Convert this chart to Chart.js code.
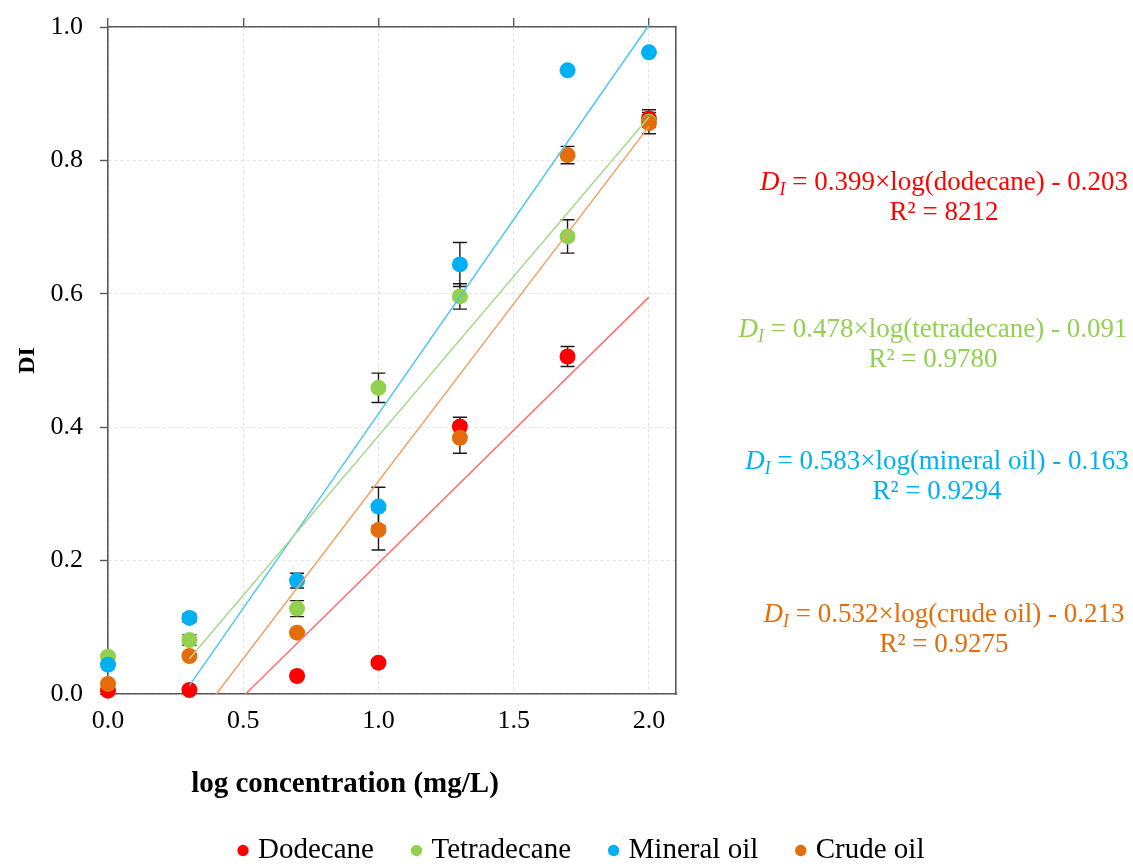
<!DOCTYPE html>
<html>
<head>
<meta charset="utf-8">
<script src="https://cdn.jsdelivr.net/npm/chart.js@4.4.1/dist/chart.umd.min.js"></script>
<style>
  html, body { margin: 0; padding: 0; background: #ffffff; }
  canvas { display: block; }
</style>
</head>
<body>
<canvas id="chart" width="1133" height="866"></canvas>
<script>
// log10 of the tested concentrations (1, 2, 5, 10, 20, 50, 100 mg/L)
const logConc = [0, 0.301, 0.699, 1, 1.301, 1.699, 2];

// Dispersion index per hydrocarbon
const dodecane    = [0.005, 0.006, 0.027, 0.047, 0.401, 0.506, 0.863];
const tetradecane = [0.056, 0.081, 0.128, 0.459, 0.596, 0.686, 0.858];
const mineralOil  = [0.044, 0.114, 0.170, 0.281, 0.644, 0.935, 0.962];
const crudeOil    = [0.015, 0.057, 0.092, 0.246, 0.384, 0.808, 0.856];

// Standard deviations (null = no bar)
const dodecaneErr    = [null, null, null, null, 0.014, 0.015, 0.013];
const tetradecaneErr = [null, 0.008, 0.012, 0.022, 0.019, 0.025, null];
const mineralOilErr  = [null, 0.006, 0.011, 0.029, 0.033, null, null];
const crudeOilErr    = [null, null, null, 0.030, 0.023, 0.013, 0.016];

const seriesNames = ['Dodecane', 'Tetradecane', 'Mineral oil', 'Crude oil'];
const fitNames    = ['dodecane', 'tetradecane', 'mineral oil', 'crude oil'];

// Linear fits: DI = slope × log(c) + intercept
const slopes     = [0.399, 0.478, 0.583, 0.532];
const intercepts = [-0.203, -0.091, -0.163, -0.213];
const rSquared   = ['8212', '0.9780', '0.9294', '0.9275'];

const xTicks = [0, 0.5, 1.0, 1.5, 2.0];
const yTicks = [0, 0.2, 0.4, 0.6, 0.8, 1.0];

const xTitle = 'log concentration (mg/L)';
const yTitle = 'DI';

const pointColors = ['#ff0000', '#92d050', '#00b0f0', '#e46c0a'];
const lineColors  = ['#ff6f6f', '#a9d98c', '#4fc6f3', '#f2a064'];
const textColors  = ['#ff0000', '#92d050', '#00b0f0', '#e46c0a'];

const seriesValues = [dodecane, tetradecane, mineralOil, crudeOil];
const seriesErrors = [dodecaneErr, tetradecaneErr, mineralOilErr, crudeOilErr];

const FONT = "'Liberation Serif', 'Times New Roman', serif";
const AXIS = '#595959';

// Fit lines run from the second concentration (or the zero crossing) to the last one
function fitSegment(i) {
  const xStart = Math.max(logConc[1], -intercepts[i] / slopes[i]);
  const xEnd = logConc[logConc.length - 1];
  return [xStart, xEnd].map(x => ({ x: x, y: slopes[i] * x + intercepts[i] }));
}

const pointSets = seriesValues.map((vals, i) => ({
  label: seriesNames[i],
  data: vals.map((v, j) => ({ x: logConc[j], y: v })),
  showLine: false,
  pointRadius: 8,
  pointHoverRadius: 8,
  pointBorderWidth: 0,
  backgroundColor: pointColors[i],
  borderColor: pointColors[i],
  clip: false,
  order: 4 - i
}));

const fitSets = seriesValues.map((vals, i) => ({
  label: seriesNames[i] + ' fit',
  data: fitSegment(i),
  showLine: true,
  pointRadius: 0,
  borderWidth: 1.5,
  borderColor: lineColors[i],
  backgroundColor: lineColors[i],
  fill: false,
  clip: 4,
  order: 0
}));

const errorBarPlugin = {
  id: 'errorBars',
  beforeDatasetsDraw(chart) {
    const { ctx, scales } = chart;
    ctx.save();
    ctx.strokeStyle = '#1a1a1a';
    ctx.lineWidth = 1.4;
    seriesErrors.forEach((errs, i) => {
      errs.forEach((e, j) => {
        if (e == null) return;
        const v = seriesValues[i][j];
        const px = scales.x.getPixelForValue(logConc[j]);
        const top = scales.y.getPixelForValue(v + e);
        const bot = scales.y.getPixelForValue(v - e);
        ctx.beginPath();
        ctx.moveTo(px, top); ctx.lineTo(px, bot);
        ctx.moveTo(px - 7, top); ctx.lineTo(px + 7, top);
        ctx.moveTo(px - 7, bot); ctx.lineTo(px + 7, bot);
        ctx.stroke();
      });
    });
    ctx.restore();
  }
};

// Fit equations beside the plot
const eqPlacement = [
  { cx: 944, y1: 183, y2: 213 },
  { cx: 933, y1: 330, y2: 360 },
  { cx: 937, y1: 462, y2: 492 },
  { cx: 944, y1: 615, y2: 645 }
];

const equationPlugin = {
  id: 'equations',
  afterDraw(chart) {
    const ctx = chart.ctx;
    ctx.save();
    ctx.textBaseline = 'middle';
    ctx.textAlign = 'left';
    seriesNames.forEach((name, i) => {
      const p = eqPlacement[i];
      const rest = ' = ' + slopes[i].toFixed(3) + '×log(' + fitNames[i] + ') - ' + Math.abs(intercepts[i]).toFixed(3);
      const fD = 'italic 27px ' + FONT;
      const fI = 'italic 18px ' + FONT;
      const fR = '27px ' + FONT;
      ctx.font = fD; const wD = ctx.measureText('D').width;
      ctx.font = fI; const wI = ctx.measureText('I').width;
      ctx.font = fR; const wR = ctx.measureText(rest).width;
      let x = p.cx - (wD + wI + wR) / 2;
      ctx.fillStyle = textColors[i];
      ctx.font = fD; ctx.fillText('D', x, p.y1); x += wD;
      ctx.font = fI; ctx.fillText('I', x, p.y1 + 7); x += wI;
      ctx.font = fR; ctx.fillText(rest, x, p.y1);
      ctx.textAlign = 'center';
      ctx.fillText('R² = ' + rSquared[i], p.cx, p.y2);
      ctx.textAlign = 'left';
    });
    ctx.restore();
  }
};

// Axis titles
const axisTitlePlugin = {
  id: 'axisTitles',
  afterDraw(chart) {
    const ctx = chart.ctx;
    const area = chart.chartArea;
    ctx.save();
    ctx.fillStyle = '#000';
    ctx.textAlign = 'center';
    ctx.textBaseline = 'middle';
    ctx.font = 'bold 29px ' + FONT;
    ctx.fillText(xTitle, 345, 785);
    ctx.translate(28, (area.top + area.bottom) / 2);
    ctx.rotate(-Math.PI / 2);
    ctx.font = 'bold 24px ' + FONT;
    ctx.fillText(yTitle, 0, 0);
    ctx.restore();
  }
};

const fixTicks = values => axis => { axis.ticks = values.map(v => ({ value: v })); };

new Chart(document.getElementById('chart'), {
  type: 'scatter',
  data: { datasets: pointSets.concat(fitSets) },
  options: {
    responsive: false,
    animation: false,
    events: [],
    layout: { padding: { left: 34, right: 0, top: 18, bottom: -9 } },
    scales: {
      x: {
        type: 'linear',
        position: 'bottom',
        min: 0,
        max: 2.1,
        afterBuildTicks: fixTicks(xTicks),
        afterFit: s => { s.height = 100; },
        ticks: {
          padding: 12,
          color: '#000',
          font: { family: FONT, size: 26 },
          callback: v => Number(v).toFixed(1)
        },
        grid: { color: '#e2e2e2', lineWidth: 1, drawTicks: false },
        border: { display: true, color: AXIS, width: 1.6, dash: [3, 3] }
      },
      xTop: {
        type: 'linear',
        position: 'top',
        min: 0,
        max: 2.1,
        afterBuildTicks: fixTicks(xTicks),
        afterFit: s => { s.height = 9; },
        ticks: { display: false },
        grid: { drawOnChartArea: false, drawTicks: true, tickLength: 9, color: AXIS, lineWidth: 1.4 },
        border: { display: true, color: AXIS, width: 1.6 }
      },
      y: {
        type: 'linear',
        position: 'left',
        min: 0,
        max: 1.0,
        afterBuildTicks: fixTicks(yTicks),
        afterFit: s => { s.width = 74; s.paddingTop = 0; s.paddingBottom = 0; },
        ticks: {
          padding: 17,
          color: '#000',
          font: { family: FONT, size: 26 },
          callback: v => Number(v).toFixed(1)
        },
        grid: {
          color: '#e2e2e2',
          tickColor: AXIS,
          tickLength: 8,
          lineWidth: 1,
          tickWidth: 1.4
        },
        border: { display: true, color: AXIS, width: 1.6, dash: [3, 3] }
      },
      yRight: {
        type: 'linear',
        position: 'right',
        min: 0,
        max: 1.0,
        afterFit: s => { s.width = 457; },
        ticks: { display: false },
        grid: { display: false },
        border: { display: true, color: AXIS, width: 1.6 }
      }
    },
    plugins: {
      legend: {
        display: true,
        position: 'bottom',
        align: 'center',
        labels: {
          usePointStyle: true,
          pointStyle: 'circle',
          boxWidth: 1,
          boxHeight: 8,
          padding: 42,
          color: '#000',
          font: { family: FONT, size: 29 },
          filter: item => !item.text.endsWith(' fit'),
          sort: (a, b) => a.datasetIndex - b.datasetIndex
        }
      },
      tooltip: { enabled: false }
    }
  },
  plugins: [errorBarPlugin, equationPlugin, axisTitlePlugin]
});
</script>
</body>
</html>
